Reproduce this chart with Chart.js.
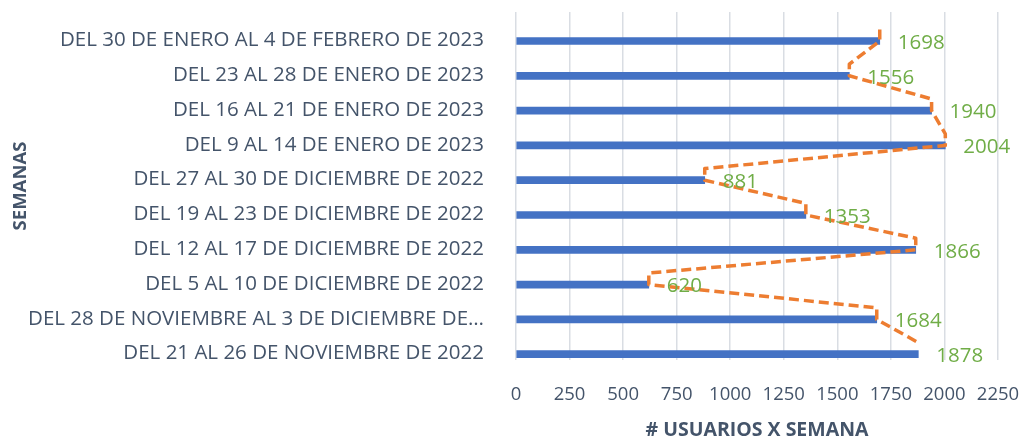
<!DOCTYPE html>
<html>
<head>
<meta charset="utf-8">
<script src="https://cdn.jsdelivr.net/npm/chart.js@4.4.1/dist/chart.umd.min.js"></script>
<style>
  html, body { margin: 0; padding: 0; background: #fff; }
  #wrap { width: 1025px; height: 437px; }
</style>
</head>
<body>
<div id="wrap"><canvas id="usersChart" width="1025" height="437"></canvas></div>
<script>
const weeks = [
  "DEL 30 DE ENERO AL 4 DE FEBRERO DE 2023",
  "DEL 23 AL 28 DE ENERO DE 2023",
  "DEL 16 AL 21 DE ENERO DE 2023",
  "DEL 9 AL 14 DE ENERO DE 2023",
  "DEL 27 AL 30 DE DICIEMBRE DE 2022",
  "DEL 19 AL 23 DE DICIEMBRE DE 2022",
  "DEL 12 AL 17 DE DICIEMBRE DE 2022",
  "DEL 5 AL 10 DE DICIEMBRE DE 2022",
  "DEL 28 DE NOVIEMBRE AL 3 DE DICIEMBRE DE…",
  "DEL 21 AL 26 DE NOVIEMBRE DE 2022"
];
const usersPerWeek = [1698, 1556, 1940, 2004, 881, 1353, 1866, 620, 1684, 1878];
const xTicks = [0, 250, 500, 750, 1000, 1250, 1500, 1750, 2000, 2250];

const FONT = "'Open Sans', sans-serif";
const TEXT = "#44546A";

// empty slots so the real bar sits in the lower part of each row, like Excel
const spacer = weeks.map(() => null);

// ── dashed trend line + value labels ──
const overlay = {
  id: "overlay",
  afterDatasetsDraw(chart) {
    const ctx = chart.ctx;
    const bars = chart.getDatasetMeta(2).data;
    const pts = chart.getDatasetMeta(3).data;

    ctx.save();
    ctx.strokeStyle = "#ED7D31";
    ctx.lineWidth = 3.5;
    ctx.setLineDash([10, 5]);
    ctx.lineJoin = "round";
    ctx.beginPath();
    pts.forEach((p, i) => {
      if (i === 0) ctx.moveTo(p.x, p.y);
      else ctx.lineTo(p.x, p.y);
      if (i < pts.length - 1) ctx.lineTo(bars[i].x, bars[i].y);
    });
    ctx.stroke();
    ctx.restore();

    ctx.save();
    ctx.fillStyle = "#70AD47";
    ctx.font = "20.5px " + FONT;
    ctx.textAlign = "left";
    ctx.textBaseline = "middle";
    bars.forEach((b, i) => {
      ctx.fillText(String(usersPerWeek[i]), b.x + 18, b.y + 2);
    });
    ctx.restore();
  }
};

new Chart(document.getElementById("usersChart"), {
  data: {
    labels: weeks,
    datasets: [
      { type: "bar", data: spacer, backgroundColor: "transparent" },
      { type: "bar", data: spacer, backgroundColor: "transparent" },
      {
        type: "bar",
        label: "Usuarios",
        data: usersPerWeek,
        backgroundColor: "#4472C4",
        maxBarThickness: 7
      },
      {
        type: "line",
        label: "Tendencia",
        data: usersPerWeek,
        showLine: false,
        pointRadius: 0,
        borderColor: "#ED7D31"
      }
    ]
  },
  options: {
    indexAxis: "y",
    responsive: false,
    animation: false,
    datasets: { bar: { categoryPercentage: 1, barPercentage: 1 } },
    layout: { padding: { top: 12, right: 27, left: 0, bottom: 0 } },
    plugins: {
      legend: { display: false },
      tooltip: { enabled: false }
    },
    scales: {
      x: {
        min: 0,
        max: 2250,
        afterBuildTicks(scale) { scale.ticks = xTicks.map(v => ({ value: v })); },
        afterFit(scale) {
          scale.height = 77;
          scale.paddingLeft = 0;
          scale.paddingRight = 0;
        },
        grid: { color: "#D9DDE3", lineWidth: 1.5, drawTicks: false },
        border: { display: false },
        ticks: {
          autoSkip: false,
          maxRotation: 0,
          padding: 24,
          color: TEXT,
          font: { family: FONT, size: 18.5 },
          callback: v => String(v)
        },
        title: {
          display: true,
          text: "# USUARIOS X SEMANA",
          color: TEXT,
          font: { family: FONT, size: 19.5, weight: "bold", lineHeight: 1 },
          padding: { top: 4, bottom: -3 }
        }
      },
      y: {
        afterFit(scale) {
          scale.width = 516;
          scale.paddingTop = 0;
          scale.paddingBottom = 0;
        },
        grid: { display: false },
        border: { display: false },
        ticks: {
          autoSkip: false,
          padding: 24,
          labelOffset: 11,
          color: TEXT,
          font: { family: FONT, size: 20.5 }
        },
        title: {
          display: true,
          text: "SEMANAS",
          color: TEXT,
          font: { family: FONT, size: 18.5, weight: "bold" },
          padding: { top: 10, bottom: 0 }
        }
      }
    }
  },
  plugins: [overlay]
});
</script>
</body>
</html>
